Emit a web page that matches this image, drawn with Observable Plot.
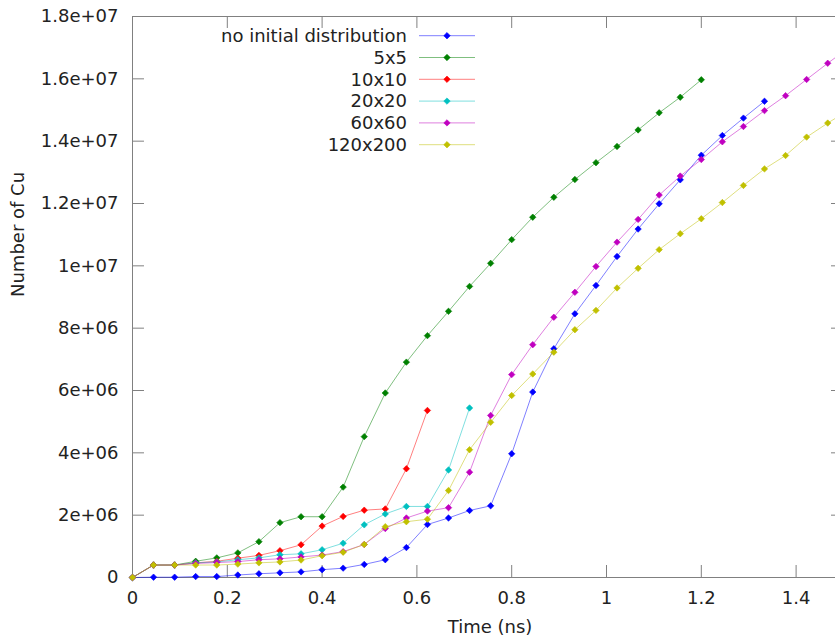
<!DOCTYPE html>
<html><head><meta charset="utf-8">
<script src="https://cdn.jsdelivr.net/npm/d3@7"></script>
<script src="https://cdn.jsdelivr.net/npm/@observablehq/plot@0.6"></script>
<style>
html,body{margin:0;padding:0;background:#fff;overflow:hidden;}
#chart svg{overflow:hidden;display:block;}
</style></head><body><div id="chart"></div>
<script>
// Time (ns) of each sample
const times = [0, 0.0444, 0.0889, 0.1333, 0.1778, 0.2222, 0.2667, 0.3111, 0.3556, 0.4,
  0.4444, 0.4889, 0.5333, 0.5778, 0.6222, 0.6667, 0.7111, 0.7556, 0.8, 0.8444,
  0.8889, 0.9333, 0.9778, 1.0222, 1.0667, 1.1111, 1.1556, 1.2, 1.2444, 1.2889,
  1.3333, 1.3778, 1.4222, 1.4667, 1.5111];

// Number of Cu, in millions
const noInitial = [0, 0.01, 0.01, 0.03, 0.03, 0.08, 0.12, 0.15, 0.18, 0.25, 0.3, 0.42, 0.57, 0.96, 1.70, 1.91, 2.15, 2.30, 3.97, 5.95, 7.34, 8.46, 9.37, 10.3, 11.18, 11.99, 12.76, 13.55, 14.18, 14.74, 15.28];
const grid5x5 = [0, 0.4, 0.4, 0.52, 0.63, 0.79, 1.15, 1.76, 1.95, 1.95, 2.9, 4.52, 5.92, 6.91, 7.76, 8.54, 9.34, 10.08, 10.84, 11.56, 12.2, 12.77, 13.31, 13.83, 14.36, 14.91, 15.41, 15.97];
const grid10x10 = [0, 0.4, 0.4, 0.47, 0.52, 0.62, 0.71, 0.86, 1.05, 1.65, 1.96, 2.16, 2.2, 3.49, 5.36];
const grid20x20 = [0, 0.4, 0.4, 0.47, 0.5, 0.57, 0.63, 0.73, 0.76, 0.89, 1.1, 1.69, 2.04, 2.28, 2.28, 3.45, 5.44];
const grid60x60 = [0, 0.4, 0.4, 0.45, 0.48, 0.51, 0.57, 0.6, 0.66, 0.72, 0.83, 1.06, 1.57, 1.91, 2.13, 2.24, 3.38, 5.2, 6.51, 7.47, 8.35, 9.15, 9.98, 10.76, 11.49, 12.27, 12.88, 13.41, 13.98, 14.47, 14.98, 15.46, 15.98, 16.5, 17.0];
const grid120x200 = [0, 0.4, 0.4, 0.4, 0.4, 0.43, 0.47, 0.5, 0.56, 0.7, 0.81, 1.06, 1.63, 1.79, 1.87, 2.79, 4.1, 4.98, 5.84, 6.53, 7.23, 7.95, 8.57, 9.29, 9.92, 10.52, 11.03, 11.51, 12.03, 12.58, 13.11, 13.54, 14.13, 14.58, 15.0];

const seriesNames = ["no initial distribution", "5x5", "10x10", "20x20", "60x60", "120x200"];
const seriesValues = [noInitial, grid5x5, grid10x10, grid20x20, grid60x60, grid120x200];
const seriesColors = ["#0000ff", "#008000", "#ff0000", "#00c0c0", "#c000c0", "#c0c000"];

const xTicks = [0, 0.2, 0.4, 0.6, 0.8, 1, 1.2, 1.4];
const xTickLabels = ["0", "0.2", "0.4", "0.6", "0.8", "1", "1.2", "1.4"];
const yTicks = [0, 2e6, 4e6, 6e6, 8e6, 1e7, 1.2e7, 1.4e7, 1.6e7, 1.8e7];
const yTickLabels = ["0", "2e+06", "4e+06", "6e+06", "8e+06", "1e+07", "1.2e+07", "1.4e+07", "1.6e+07", "1.8e+07"];
const xLabel = "Time (ns)";
const yLabel = "Number of Cu";

const rows = [];
seriesNames.forEach((name, s) => seriesValues[s].forEach((v, i) => rows.push({series: name, s, t: times[i], n: v * 1e6})));

const X_MAX = 1.5, Y_MAX = 1.8e7;
const tickLenX = 0.0253, tickLenY = 0.385e6;
const borderColor = "#808080";
const FONT = "'DejaVu Sans', sans-serif";
const FS = 18;

const seriesMarks = seriesNames.flatMap((name, s) => {
  const d = rows.filter(r => r.s === s);
  return [
    Plot.line(d, {x: "t", y: "n", stroke: seriesColors[s], strokeOpacity: 0.5, strokeWidth: 1}),
    Plot.dot(d, {x: "t", y: "n", symbol: "diamond2", r: 2.9, fill: seriesColors[s], stroke: seriesColors[s], strokeWidth: 0.6})
  ];
});

const plot = Plot.plot({
  width: 835, height: 644,
  marginLeft: 132, marginRight: 0, marginTop: 16, marginBottom: 67,
  style: {fontFamily: FONT, fontSize: FS + "px", color: "#222", background: "#fff"},
  x: {domain: [0, X_MAX], range: [132, 843]},
  y: {domain: [0, Y_MAX], range: [577, 16]},
  marks: [
    Plot.ruleX([0], {stroke: borderColor}),
    Plot.ruleY([0, Y_MAX], {stroke: borderColor}),
    Plot.ruleY(yTicks, {y: d => d, x1: 0, x2: tickLenX, stroke: borderColor}),
    Plot.ruleY(yTicks, {y: d => d, x1: X_MAX - tickLenX, x2: X_MAX, stroke: borderColor}),
    Plot.ruleX(xTicks, {x: d => d, y1: 0, y2: tickLenY, stroke: borderColor}),
    Plot.ruleX(xTicks, {x: d => d, y1: Y_MAX - tickLenY, y2: Y_MAX, stroke: borderColor}),
    Plot.axisX(xTicks, {tickSize: 0, tickPadding: 14, tickFormat: d => xTickLabels[xTicks.indexOf(d)], label: null, fontSize: FS}),
    Plot.axisY(yTicks, {tickSize: 0, tickPadding: 14, tickFormat: d => yTickLabels[yTicks.indexOf(d)], label: null, fontSize: FS}),
    Plot.text([xLabel], {frameAnchor: "bottom", dx: 6, dy: 55, text: d => d, fontSize: FS}),
    Plot.text([yLabel], {frameAnchor: "left", dx: -114, rotate: -90, text: d => d, fontSize: FS}),
    ...seriesMarks
  ]
});

// Legend (top-left, gnuplot style)
const svg = d3.select(plot);
const lg = svg.append("g").attr("font-family", FONT).attr("font-size", FS).attr("fill", "#222");
seriesNames.forEach((name, s) => {
  const y = 35.7 + s * 21.8;
  lg.append("text").attr("x", 407).attr("y", y).attr("dy", "0.35em").attr("text-anchor", "end").text(name);
  lg.append("line").attr("x1", 419).attr("x2", 475).attr("y1", y).attr("y2", y)
    .attr("stroke", seriesColors[s]).attr("stroke-opacity", 0.5);
  lg.append("path").attr("d", d3.symbol(d3.symbolDiamond2, 2.9 * 2.9 * Math.PI)())
    .attr("transform", `translate(447,${y})`).attr("fill", seriesColors[s])
    .attr("stroke", seriesColors[s]).attr("stroke-width", 0.6);
});

document.getElementById("chart").appendChild(plot);
</script></body></html>
